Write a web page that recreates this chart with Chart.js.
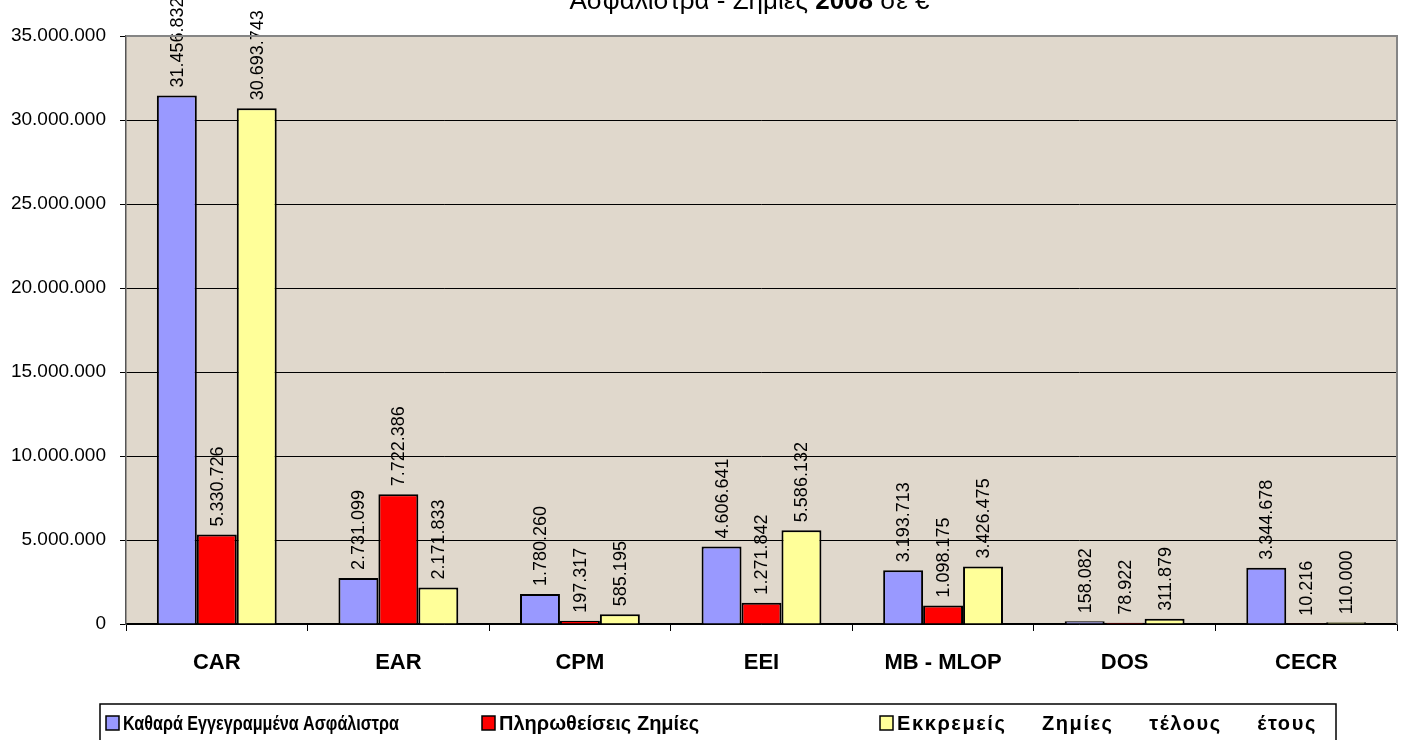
<!DOCTYPE html>
<html>
<head>
<meta charset="utf-8">
<script src="https://cdn.jsdelivr.net/npm/chart.js@4"></script>
<style>
  html, body { margin: 0; padding: 0; background: #fff; }
  #wrap { width: 1403px; height: 740px; position: relative; }
</style>
</head>
<body>
<div id="wrap"><canvas id="myChart" width="1403" height="740"></canvas></div>
<script>
// data
const categories = ['CAR', 'EAR', 'CPM', 'EEI', 'MB - MLOP', 'DOS', 'CECR'];
const seriesNames = ['Καθαρά Εγγεγραμμένα Ασφάλιστρα', 'Πληρωθείσεις Ζημίες', 'Εκκρεμείς Ζημίες τέλους έτους'];
const netPremiums = [31456832, 2731099, 1780260, 4606641, 3193713, 158082, 3344678];
const paidClaims = [5330726, 7722386, 197317, 1271842, 1098175, 78922, 10216];
const pendingClaims = [30693743, 2171833, 585195, 5586132, 3426475, 311879, 110000];
const titleParts = [['Ασφάλιστρα - Ζημιές ', false], ['2008', true], [' σε €', false]];

const FONT = '"Liberation Sans", Arial, sans-serif';

const numberWithDots = (number) => {
    return number.toString().replace(/\B(?=(\d{3})+(?!\d))/g, ".");
}

// plot background + gray frame
const plotFrame = {
    id: 'plotFrame',
    beforeDraw: function(chart){
        const a = chart.chartArea, ctx = chart.ctx;
        ctx.save();
        ctx.fillStyle = '#e0d8cc';
        ctx.fillRect(a.left, a.top, a.right - a.left, a.bottom - a.top);
        ctx.restore();
    },
    afterDraw: function(chart){
        const a = chart.chartArea, ctx = chart.ctx;
        ctx.save();
        ctx.strokeStyle = '#858585';
        ctx.lineWidth = 2;
        ctx.beginPath();
        ctx.moveTo(a.left, a.top);
        ctx.lineTo(a.right, a.top);
        ctx.lineTo(a.right, a.bottom);
        ctx.stroke();
        ctx.restore();
    }
};

// rotated value labels above the bars
const valueLabels = {
    id: 'valueLabels',
    afterDatasetsDraw: function(chart){
        const ctx = chart.ctx;
        ctx.save();
        ctx.font = '18px ' + FONT;
        ctx.fillStyle = '#000';
        ctx.textAlign = 'left';
        ctx.textBaseline = 'middle';
        chart.data.datasets.forEach(function(ds, i){
            chart.getDatasetMeta(i).data.forEach(function(bar, j){
                ctx.save();
                ctx.translate(bar.x + 1, bar.y - 8);
                ctx.rotate(-Math.PI / 2);
                ctx.fillText(numberWithDots(ds.data[j]), 0, 0);
                ctx.restore();
            });
        });
        ctx.restore();
    }
};

// title half cut at the top, year in bold
const cutTitle = {
    id: 'cutTitle',
    afterDraw: function(chart){
        const ctx = chart.ctx;
        const a = chart.chartArea;
        ctx.save();
        ctx.fillStyle = '#000';
        ctx.textBaseline = 'alphabetic';
        ctx.textAlign = 'left';
        var total = 0;
        for (var p of titleParts){
            ctx.font = (p[1] ? 'bold ' : '') + '26px ' + FONT;
            total += ctx.measureText(p[0]).width;
        }
        var x = (a.left + a.right) / 2 - total / 2 - 12;
        for (var p of titleParts){
            ctx.font = (p[1] ? 'bold ' : '') + '26px ' + FONT;
            ctx.fillText(p[0], x, 9);
            x += ctx.measureText(p[0]).width;
        }
        ctx.restore();
    }
};

// boxed legend at the bottom, each entry fitted to its width
const boxLegend = {
    id: 'boxLegend',
    afterDraw: function(chart){
        const ctx = chart.ctx;
        const starts = [106, 482, 880];
        const widths = [276, 200, 420];
        ctx.save();
        ctx.strokeStyle = '#000';
        ctx.lineWidth = 1.5;
        ctx.strokeRect(100, 704, 1236, 50);
        ctx.textBaseline = 'middle';
        ctx.textAlign = 'left';
        chart.data.datasets.forEach(function(ds, i){
            var x = starts[i];
            ctx.fillStyle = ds.backgroundColor;
            ctx.fillRect(x, 716, 13, 14);
            ctx.lineWidth = 1.5;
            ctx.strokeStyle = '#000';
            ctx.strokeRect(x, 716, 13, 14);
            ctx.font = 'bold 20px ' + FONT;
            ctx.letterSpacing = '0px';
            ctx.wordSpacing = '0px';
            var natural = ctx.measureText(ds.label).width;
            var extra = widths[i] - natural;
            ctx.fillStyle = '#000';
            ctx.save();
            ctx.translate(x + 17, 724);
            if (extra < 0) {
                ctx.scale(widths[i] / natural, 1);
            } else {
                var spaces = ds.label.split(' ').length - 1;
                ctx.letterSpacing = (extra * 0.35 / ds.label.length).toFixed(2) + 'px';
                ctx.wordSpacing = (extra * 0.65 / spaces).toFixed(2) + 'px';
            }
            ctx.fillText(ds.label, 0, 0);
            ctx.restore();
        });
        ctx.restore();
    }
};

const data = {
    labels: categories,
    datasets: [{
        label: seriesNames[0],
        backgroundColor: '#9999ff',
        data: netPremiums
    }, {
        label: seriesNames[1],
        backgroundColor: '#ff0000',
        data: paidClaims
    }, {
        label: seriesNames[2],
        backgroundColor: '#ffff99',
        data: pendingClaims
    }]
};

const config = {
    type: 'bar',
    data: data,
    options: {
        responsive: false,
        animation: false,
        layout: { padding: { top: 36, right: 6, left: 0, bottom: 56 } },
        datasets: {
            bar: {
                borderColor: '#000',
                borderWidth: 2,
                categoryPercentage: 0.66,
                barPercentage: 1.0
            }
        },
        plugins: {
            legend: { display: false },
            title: { display: false },
            tooltip: { enabled: false }
        },
        scales: {
            x: {
                afterFit: function(scale){ scale.height = 60; },
                grid: {
                    offset: true,
                    drawOnChartArea: false,
                    color: '#000',
                    tickLength: 7
                },
                border: { color: '#000', width: 1.5 },
                ticks: {
                    color: '#000',
                    padding: 19,
                    font: { family: FONT, size: 22, weight: 'bold' }
                }
            },
            y: {
                min: 0,
                max: 35000000,
                afterFit: function(scale){ scale.width = 126; },
                grid: { color: '#000', tickLength: 6 },
                border: { color: '#555', width: 1.5 },
                ticks: {
                    stepSize: 5000000,
                    color: '#000',
                    padding: 14,
                    font: { family: FONT, size: 19 },
                    callback: function(v){ return numberWithDots(v); }
                }
            }
        }
    },
    plugins: [plotFrame, valueLabels, cutTitle, boxLegend]
};

var myChart = new Chart(document.getElementById('myChart'), config);
</script>
</body>
</html>
